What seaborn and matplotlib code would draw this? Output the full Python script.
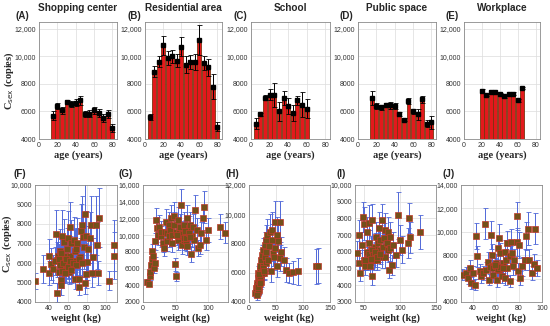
import numpy as np
import pandas as pd
import matplotlib
matplotlib.use("Agg")
import matplotlib.pyplot as plt
import seaborn as sns
from matplotlib.ticker import FuncFormatter

# ==============================
# Data
# ==============================

TITLES = ["Shopping center", "Residential area", "School", "Public space", "Workplace"]
TOP_LETTERS = ["(A)", "(B)", "(C)", "(D)", "(E)"]
BOTTOM_LETTERS = ["(F)", "(G)", "(H)", "(I)", "(J)"]

# age groups and mean copies per location
shop_age = [15, 20, 25, 30, 35, 40, 45, 50, 55, 60, 65, 70, 75, 80]
shop_val = [5700, 6400, 6100, 6700, 6550, 6650, 6800, 5800, 5850, 6100, 5900, 5500, 5800, 4800]
shop_err = [300, 250, 250, 150, 200, 250, 300, 200, 250, 250, 300, 300, 300, 300]

resid_age = [5, 10, 15, 20, 25, 30, 35, 40, 45, 50, 55, 60, 65, 70, 75, 80]
resid_val = [5600, 8900, 9600, 10800, 9900, 10000, 9700, 10700, 9400, 9600, 9600, 11200, 9500, 9200, 7800, 4900]
resid_err = [200, 400, 400, 700, 500, 500, 450, 700, 600, 500, 600, 1100, 500, 600, 900, 300]

school_age = [5, 10, 15, 20, 25, 30, 35, 40, 45, 50, 55, 60]
school_val = [5100, 5800, 7000, 7200, 7200, 6000, 7000, 6400, 5900, 6800, 6500, 6200]
school_err = [400, 100, 200, 400, 900, 700, 500, 600, 600, 300, 900, 700]

public_age = [15, 20, 25, 30, 35, 40, 45, 50, 55, 60, 65, 70, 75, 80]
public_val = [7000, 6400, 6300, 6500, 6450, 6400, 5800, 5400, 6750, 6000, 5800, 6900, 5100, 5200]
public_err = [500, 200, 200, 100, 250, 200, 150, 100, 200, 200, 400, 250, 250, 500]

work_age = [20, 25, 30, 35, 40, 45, 50, 55, 60, 65]
work_val = [7500, 7200, 7450, 7400, 7300, 7100, 7250, 7300, 6800, 7700]
work_err = [150, 50, 100, 50, 50, 100, 100, 100, 100, 100]

# body weight vs copies per location
shop_w = [25, 33, 40, 40, 42, 44, 47, 48, 48, 49, 50, 51, 52, 53, 53, 54, 55, 56, 56, 57,
          58, 59, 60, 60, 61, 62, 62, 63, 63, 64, 66, 67, 67, 68, 69, 70, 70, 72, 72, 73,
          74, 75, 76, 77, 78, 78, 79, 79, 80, 81, 83, 84, 85, 87, 90, 91, 92, 93, 104, 109,
          109, 46, 50, 52, 55, 58, 60, 62, 65, 68, 54, 57, 63, 72, 75, 53]
shop_c = [5090, 5690, 6340, 5480, 5950, 5690, 7500, 4480, 6170, 6380, 5520, 6030, 6640, 5120, 4880, 7410, 6120, 7070, 5780, 6380,
          5950, 6720, 7290, 6120, 5520, 7840, 6380, 7020, 5780, 6120, 7160, 6640, 5170, 6120, 6720, 7020, 5950, 5170, 4780, 6290,
          7620, 7930, 7330, 6810, 8530, 5000, 7360, 5430, 6030, 6720, 7290, 7930, 5470, 6290, 7930, 6900, 5480, 8330, 5090, 6380,
          6900, 6100, 6200, 5900, 6000, 6200, 5800, 6100, 6000, 5900, 5600, 5500, 5650, 6200, 6000, 6500]
shop_ce = [400, 700, 900, 600, 800, 700, 1200, 500, 900, 1000, 600, 800, 1100, 400, 500, 1300, 900, 1200, 700, 1000,
           900, 1100, 1400, 900, 600, 1300, 1000, 1200, 800, 900, 1200, 1100, 500, 900, 1100, 1300, 800, 500, 400, 1000,
           1400, 1500, 1300, 1100, 1500, 600, 1300, 700, 900, 1200, 1300, 1500, 700, 1000, 1500, 1200, 600, 1500, 500, 1200,
           1300, 700, 800, 700, 700, 800, 600, 700, 700, 600, 600, 500, 600, 800, 700, 900]

resid_w = [6, 9, 10, 11, 12, 13, 14, 16, 17, 18, 19, 20, 22, 23, 25, 27, 28, 31, 32, 34,
           35, 36, 37, 39, 40, 41, 43, 44, 45, 47, 48, 49, 50, 51, 53, 54, 55, 57, 58, 60,
           61, 62, 63, 65, 66, 67, 68, 70, 71, 72, 74, 75, 76, 78, 80, 82, 84, 87, 89, 91,
           94, 97, 100, 118, 125, 55, 58, 60, 62, 64, 66, 70, 72, 52]
resid_c = [4430, 4160, 5060, 5530, 6390, 7100, 8080, 7490, 6120, 6710, 9250, 11800, 10820, 10040, 11020, 9840, 10430, 9060, 8470, 10430,
           11610, 10240, 9250, 11220, 9840, 10630, 12000, 9060, 10040, 12270, 11220, 6510, 5060, 10430, 9450, 11800, 9840, 11020, 13570, 8860,
           10240, 9450, 11220, 9250, 10430, 12000, 8670, 9840, 10820, 11220, 7690, 9840, 11020, 9450, 12980, 10630, 8470, 8860, 10240, 12000,
           13370, 9450, 10630, 11020, 10310, 10300, 9900, 10100, 9700, 10500, 9600, 10200, 9800, 10000]
resid_ce = [300, 300, 400, 500, 600, 700, 900, 800, 600, 700, 1000, 1500, 1300, 1200, 1400, 1200, 1300, 1100, 1000, 1300,
            1500, 1300, 1100, 1500, 1200, 1400, 1600, 1100, 1300, 1700, 1500, 800, 500, 1400, 1200, 1600, 1300, 1500, 1900, 1100,
            1300, 1200, 1500, 1100, 1400, 1600, 1000, 1300, 1500, 1500, 900, 1300, 1500, 1200, 1800, 1400, 1000, 1100, 1300, 1600,
            1900, 1200, 1400, 1500, 1300, 1200, 1100, 1200, 1100, 1300, 1100, 1200, 1100, 1200]

school_w = [12, 13, 15, 16, 17, 18, 19, 20, 21, 22, 23, 24, 26, 26, 27, 29, 29, 31, 32, 32,
            34, 35, 37, 38, 40, 42, 43, 44, 46, 48, 49, 51, 52, 54, 57, 57, 59, 65, 68, 74,
            82, 90, 124, 127, 14, 16, 18, 20, 22, 24, 15, 17, 19, 21, 25, 28]
school_c = [4610, 4950, 5300, 5640, 5980, 4840, 5480, 6200, 6480, 5860, 6890, 7230, 6430, 7570, 5980, 7110, 7910, 6660, 8250, 7450,
            8590, 6890, 7800, 8820, 6090, 8250, 8930, 7340, 7110, 9500, 7680, 6430, 8590, 8140, 9500, 7000, 7450, 6890, 6200, 5980,
            6020, 6090, 6430, 6480, 5100, 4700, 5200, 5600, 5400, 6000, 4450, 5000, 5900, 5300, 6300, 6100]
school_ce = [300, 300, 400, 400, 500, 300, 400, 500, 500, 400, 700, 700, 600, 800, 500, 800, 900, 700, 1000, 800,
             1100, 800, 1000, 1200, 700, 1100, 1200, 900, 900, 1400, 1000, 700, 1200, 1100, 1400, 900, 1000, 900, 800, 700,
             800, 900, 1200, 1200, 300, 300, 300, 400, 400, 500, 300, 300, 400, 400, 500, 500]

public_w = [41, 43, 44, 45, 48, 49, 50, 51, 52, 54, 55, 56, 57, 58, 59, 60, 62, 62, 64, 65,
            66, 67, 68, 70, 71, 72, 73, 75, 75, 77, 78, 80, 80, 82, 83, 84, 85, 86, 87, 89,
            91, 94, 98, 100, 103, 111, 113, 114, 128, 55, 58, 61, 63, 66, 69, 72, 60, 52]
public_c = [5920, 5330, 7000, 4730, 6410, 8090, 5520, 7690, 5130, 7200, 5920, 5520, 6510, 7730, 5130, 6120, 4540, 7890, 5520, 6310,
            5820, 6900, 5520, 6510, 7400, 6120, 6710, 5720, 7890, 6310, 6800, 5720, 7300, 6510, 6120, 7200, 4930, 6900, 6210, 5230,
            6410, 5820, 8190, 6710, 6120, 6510, 8030, 6860, 7200, 6000, 5900, 6100, 5800, 6000, 5700, 5900, 5600, 5500]
public_ce = [700, 600, 900, 500, 800, 900, 600, 1000, 500, 900, 700, 600, 800, 1100, 600, 800, 500, 1000, 600, 800,
             700, 900, 600, 800, 1000, 700, 900, 700, 1000, 800, 900, 700, 1000, 800, 700, 900, 500, 900, 800, 600,
             800, 700, 1400, 900, 800, 900, 900, 900, 1000, 600, 600, 700, 600, 600, 600, 600, 600, 600]

work_w = [31, 34, 36, 38, 39, 40, 42, 43, 44, 46, 47, 49, 51, 52, 53, 54, 56, 57, 57, 58,
          60, 61, 62, 63, 63, 64, 65, 66, 68, 68, 69, 70, 70, 72, 72, 73, 74, 75, 76, 78,
          78, 79, 80, 81, 83, 85, 86, 88, 89, 91, 93, 94, 96, 55, 58, 60, 62, 64, 66, 59]
work_c = [6340, 6480, 6060, 6900, 5630, 6480, 5490, 9630, 7890, 6620, 6200, 6480, 10700, 6760, 7460, 5920, 9720, 8030, 7040, 6340,
          7320, 5920, 8590, 9440, 6760, 8170, 6200, 7320, 8310, 6060, 7600, 6900, 9010, 7890, 5770, 9150, 8170, 7040, 7600, 9150,
          11350, 6620, 8870, 6060, 7040, 7600, 9660, 10280, 7600, 6480, 7270, 10280, 6900, 7000, 6900, 7100, 6800, 7000, 6900, 7200]
work_ce = [500, 500, 500, 700, 500, 600, 500, 1100, 900, 600, 600, 600, 1300, 700, 800, 500, 1200, 900, 700, 600,
           800, 600, 1000, 1200, 700, 900, 600, 800, 1000, 600, 900, 700, 1100, 900, 500, 1100, 900, 700, 900, 1200,
           1200, 700, 1100, 600, 800, 900, 1200, 1400, 900, 600, 800, 1300, 700, 600, 600, 600, 600, 600, 600, 600]

TOP_DATA = [(shop_age, shop_val, shop_err), (resid_age, resid_val, resid_err),
            (school_age, school_val, school_err), (public_age, public_val, public_err),
            (work_age, work_val, work_err)]
BOTTOM_DATA = [(shop_w, shop_c, shop_ce), (resid_w, resid_c, resid_ce),
               (school_w, school_c, school_ce), (public_w, public_c, public_ce),
               (work_w, work_c, work_ce)]

# ==============================
# Layout (pixels, 550 x 326 canvas)
# ==============================

W, H = 550, 326
TOP_BOXES = [(39, 117), (145, 222), (251, 330), (358, 436), (464, 540)]
BOTTOM_BOXES = [(35, 117), (143, 228), (249, 330), (355, 436), (461, 542)]
TOP_Y = (22, 139)
BOTTOM_Y = (185, 302)
TOP_LETTER_X = [-0.21, -0.14, -0.13, -0.15, -0.16]
BOTTOM_LETTER_X = [-0.18, -0.21, -0.21, -0.17, -0.15]

BOTTOM_XLIM = [(25, 112), (0, 130), (0, 150), (38, 150), (30, 100)]
BOTTOM_XTICKS = [[40, 60, 80, 100], [0, 50, 100], [0, 50, 100, 150], [50, 100, 150], [40, 60, 80, 100]]
BOTTOM_YLIM = [(4000, 10000), (2000, 16000), (4000, 12000), (3000, 10000), (4000, 14000)]
BOTTOM_YSTEP = [1000, 2000, 2000, 1000, 2000]

BAR_RED = "#e3191c"
BAR_EDGE = "#7a3410"
SQ_FACE = "#74501a"
SQ_EDGE = "#c0392b"
ERR_BLUE = "#5068d8"

SANS = ["Liberation Sans", "DejaVu Sans"]
SERIF = ["Liberation Serif", "DejaVu Serif"]
YLABEL = r"C$_{\mathrm{sex}}$ (copies)"


def fmt_copies(v, _pos):
    if v >= 10000:
        return f"{v:,.0f}"
    return f"{v:.0f}"


def add_box(fig, xr, yr):
    left = xr[0] / W
    bottom = 1 - yr[1] / H
    return fig.add_axes([left, bottom, (xr[1] - xr[0]) / W, (yr[1] - yr[0]) / H])


def style_axes(ax):
    ax.grid(True, color="#dcdcdc", linewidth=0.5)
    ax.set_axisbelow(True)
    for sp in ax.spines.values():
        sp.set_color("#8a8a8a")
        sp.set_linewidth(0.6)
        sp.set_visible(True)
    ax.tick_params(direction="in", length=2, width=0.5, labelsize=5,
                   colors="#333333", pad=2)
    for lab in ax.get_xticklabels() + ax.get_yticklabels():
        lab.set_family(SANS)
    ax.yaxis.set_major_formatter(FuncFormatter(fmt_copies))


def main():
    sns.set_theme(style="whitegrid")
    plt.rcParams["font.family"] = SANS

    fig = plt.figure(figsize=(W / 100, H / 100), dpi=100)

    # top row: bars by age
    for i, (ages, vals, errs) in enumerate(TOP_DATA):
        ax = add_box(fig, TOP_BOXES[i], TOP_Y)
        df = pd.DataFrame({"age": ages, "val": vals})
        sns.barplot(data=df, x="age", y="val", native_scale=True, width=0.85,
                    color=BAR_RED, saturation=1, edgecolor=BAR_EDGE,
                    linewidth=0.6, errorbar=None, ax=ax)
        ax.errorbar(ages, vals, yerr=errs, fmt="s", color="black", ms=3.4,
                    elinewidth=0.7, capsize=1.8, capthick=0.6)
        ax.set_xlim(0, 85)
        ax.set_ylim(4000, 12500)
        ax.set_xticks([0, 20, 40, 60, 80])
        ax.set_yticks([4000, 6000, 8000, 10000, 12000])
        style_axes(ax)
        ax.set_xlabel("age (years)", family=SERIF, fontsize=7.5,
                      fontweight="bold", labelpad=1)
        ax.set_ylabel("")
        ax.set_title(TITLES[i], fontsize=7.2, fontweight="bold", pad=8,
                     family=SANS)
        ax.text(TOP_LETTER_X[i], 1.005, TOP_LETTERS[i], transform=ax.transAxes,
                fontsize=7, fontweight="bold", ha="center", va="bottom")
        if i == 0:
            ax.set_ylabel(YLABEL, family=SERIF, fontsize=7.5, fontweight="bold")
            ax.yaxis.set_label_coords(-0.30, 0.5)

    # bottom row: copies vs body weight
    for i, (wts, vals, errs) in enumerate(BOTTOM_DATA):
        ax = add_box(fig, BOTTOM_BOXES[i], BOTTOM_Y)
        ax.errorbar(wts, vals, yerr=errs, fmt="none", ecolor=ERR_BLUE,
                    elinewidth=0.7, capsize=1.8, capthick=0.6, zorder=2)
        df = pd.DataFrame({"weight": wts, "val": vals})
        sns.scatterplot(data=df, x="weight", y="val", marker="s", s=13,
                        color=SQ_FACE, edgecolor=SQ_EDGE, linewidth=0.5,
                        zorder=3, ax=ax)
        ax.set_xlim(*BOTTOM_XLIM[i])
        ax.set_xticks(BOTTOM_XTICKS[i])
        lo, hi = BOTTOM_YLIM[i]
        ax.set_ylim(lo, hi)
        ax.set_yticks(np.arange(lo, hi + 1, BOTTOM_YSTEP[i]))
        style_axes(ax)
        ax.set_xlabel("weight (kg)", family=SERIF, fontsize=7.5,
                      fontweight="bold", labelpad=1)
        ax.set_ylabel("")
        ax.text(BOTTOM_LETTER_X[i], 1.05, BOTTOM_LETTERS[i], transform=ax.transAxes,
                fontsize=7, fontweight="bold", ha="center", va="bottom")
        if i == 0:
            ax.set_ylabel(YLABEL, family=SERIF, fontsize=7.5, fontweight="bold")
            ax.yaxis.set_label_coords(-0.25, 0.5)

    fig.savefig("out.png", dpi=100)
    plt.close(fig)


if __name__ == "__main__":
    main()
